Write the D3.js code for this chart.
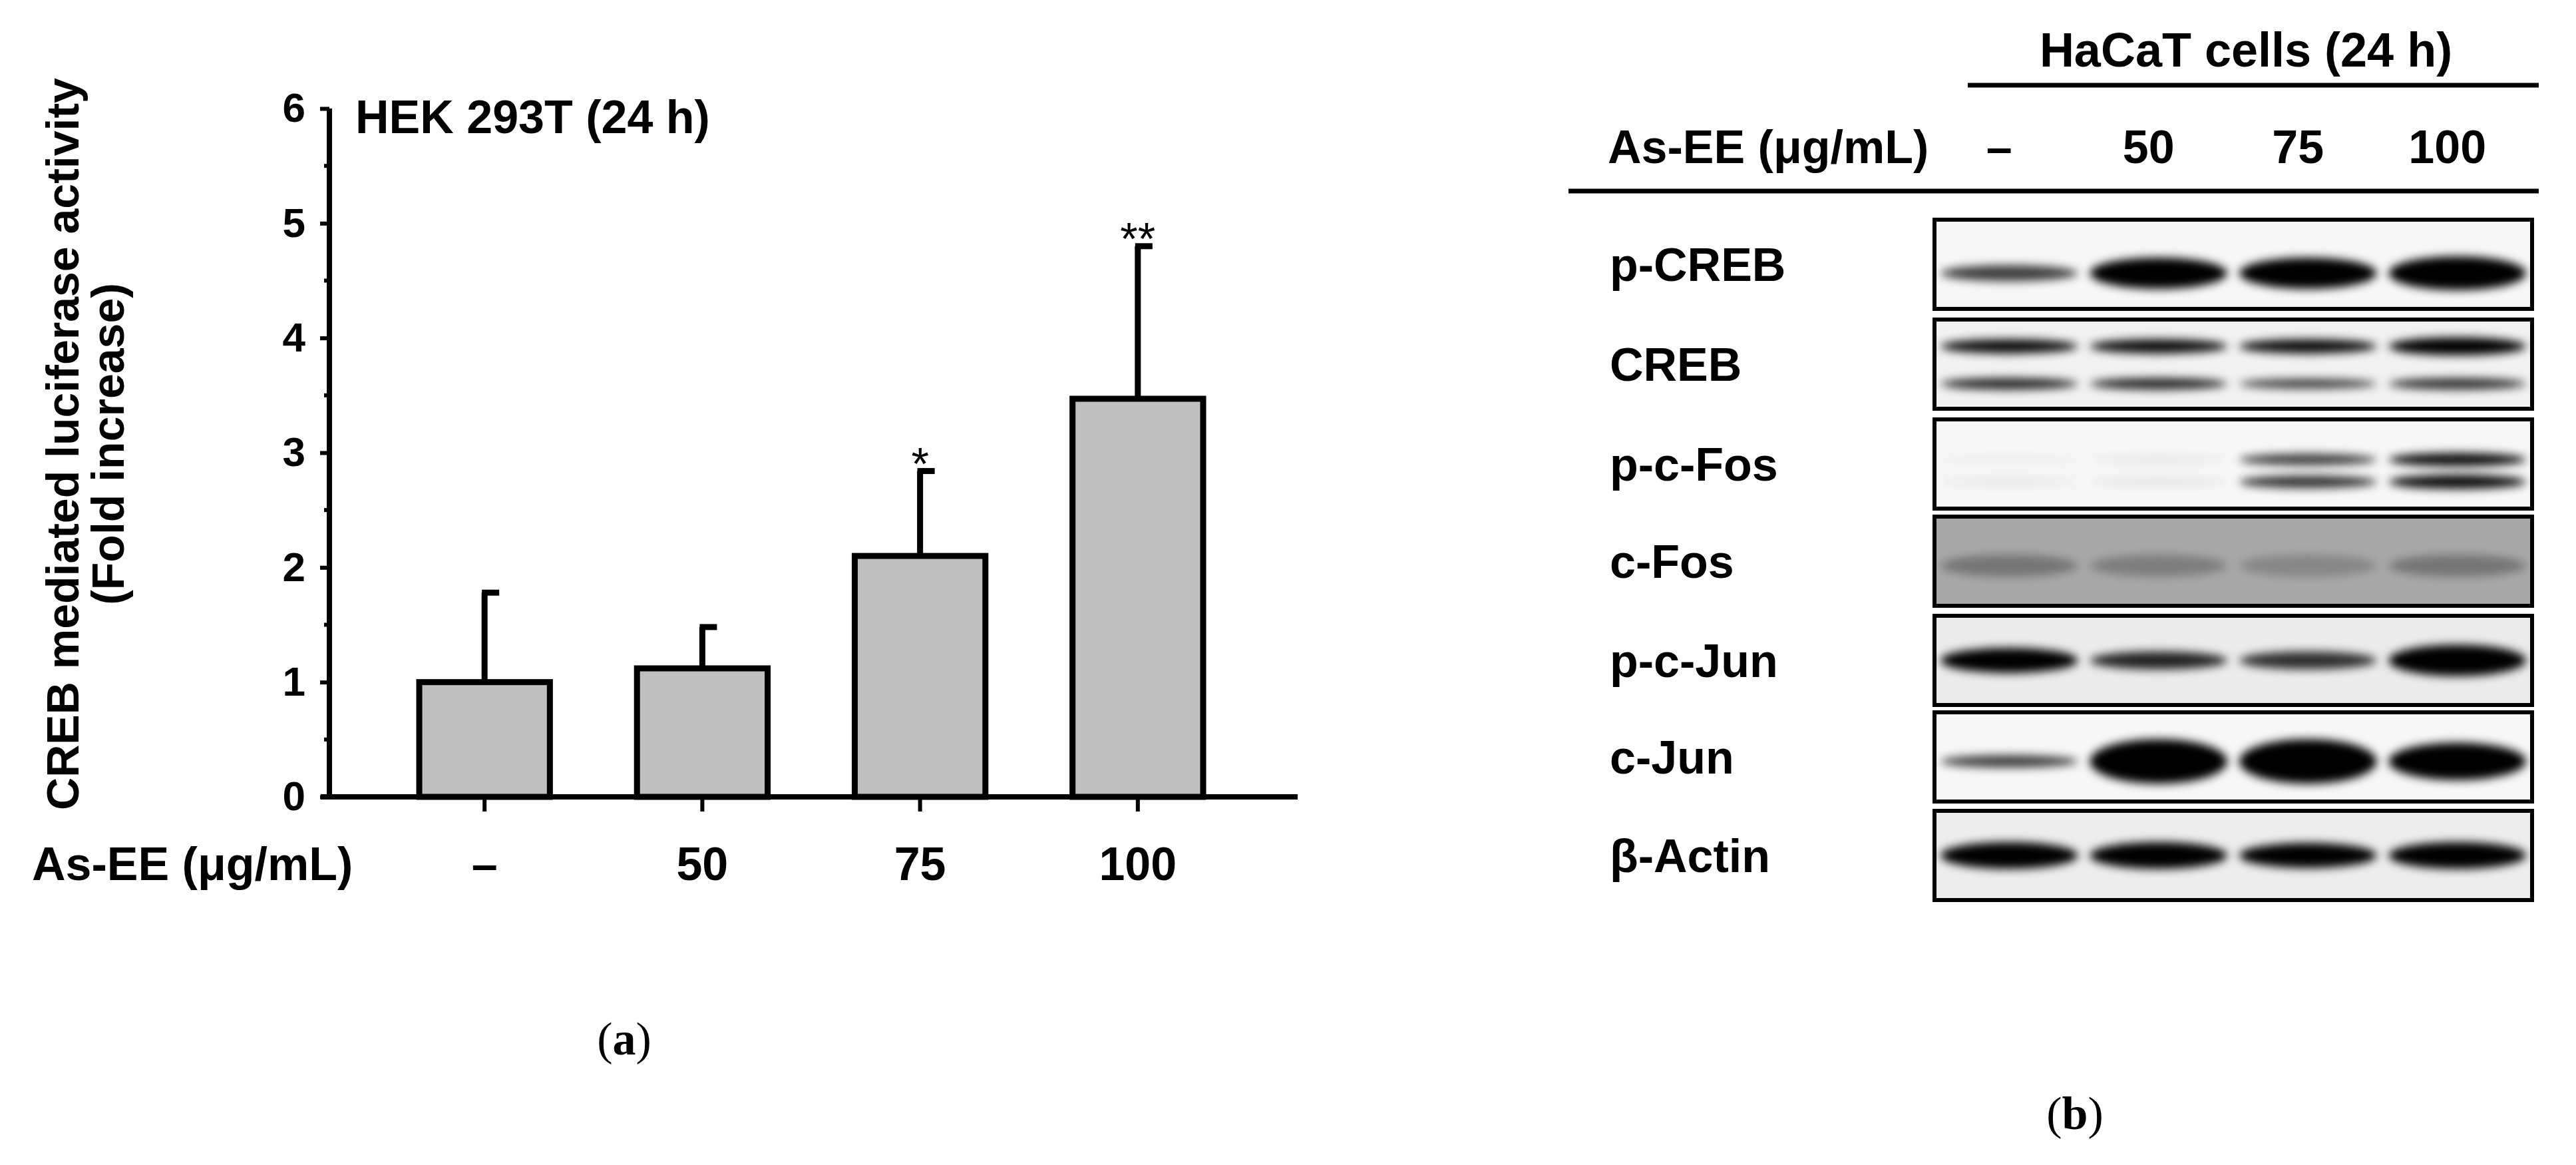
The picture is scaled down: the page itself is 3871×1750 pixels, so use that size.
<!DOCTYPE html>
<html><head><meta charset="utf-8">
<script src="https://cdn.jsdelivr.net/npm/d3@7"></script>
<style>body{margin:0;background:#fff}</style></head>
<body><svg id="c" width="3871" height="1750"></svg>
<script>
// ---- Panel (a) data ----
const categories = ["–", "50", "75", "100"];
const means = [1.0, 1.12, 2.1, 3.47];
const errTop = [1.78, 1.48, 2.84, 4.8];
const stars = ["", "", "*", "**"];
const yTicks = [0, 1, 2, 3, 4, 5, 6];
// ---- Panel (b) data ----
const lanes = ["–", "50", "75", "100"];
const proteins = ["p-CREB", "CREB", "p-c-Fos", "c-Fos", "p-c-Jun", "c-Jun", "β-Actin"];
const bandPos = [[0.6], [0.3, 0.72], [0.45, 0.7], [0.55], [0.5], [0.55], [0.5]];
const bandInt = [
  [[0.75, 1, 1, 1]],
  [[0.95, 0.95, 0.95, 1], [0.85, 0.85, 0.75, 0.8]],
  [[0.04, 0.06, 0.75, 0.95], [0.06, 0.07, 0.8, 0.95]],
  [[0.3, 0.25, 0.2, 0.3]],
  [[1, 0.85, 0.8, 1]],
  [[0.75, 1, 1, 1]],
  [[1, 1, 1, 1]]
];
const bandThick = [
  [[0.18, 0.35, 0.35, 0.38]],
  [[0.16, 0.16, 0.16, 0.2], [0.13, 0.13, 0.11, 0.13]],
  [[0.1, 0.1, 0.13, 0.15], [0.1, 0.1, 0.14, 0.16]],
  [[0.25, 0.25, 0.25, 0.25]],
  [[0.28, 0.2, 0.2, 0.35]],
  [[0.14, 0.5, 0.5, 0.42]],
  [[0.3, 0.3, 0.28, 0.3]]
];
const bgGray = [0.97, 0.95, 0.97, 0.66, 0.92, 0.97, 0.93];

const svg = d3.select("#c");
const F = "'Liberation Sans', Arial, sans-serif";

// ---------- Panel a ----------
const x = d3.scaleBand().domain(categories).range([630, 1808]).paddingInner(0.4).paddingOuter(0);
const y = d3.scaleLinear().domain([0, 6]).range([1197, 163]);
const g = svg.append("g");
const bw = x.bandwidth();
g.selectAll("line.err").data(categories).enter().append("line")
  .attr("x1", d => x(d) + bw / 2).attr("x2", d => x(d) + bw / 2)
  .attr("y1", (d, i) => y(means[i])).attr("y2", (d, i) => y(errTop[i]))
  .attr("stroke", "#000").attr("stroke-width", 9);
g.selectAll("line.cap").data(categories).enter().append("line")
  .attr("x1", d => x(d) + bw / 2 - 4).attr("x2", d => x(d) + bw / 2 + 22)
  .attr("y1", (d, i) => y(errTop[i])).attr("y2", (d, i) => y(errTop[i]))
  .attr("stroke", "#000").attr("stroke-width", 9);
g.selectAll("rect").data(categories).enter().append("rect")
  .attr("x", d => x(d)).attr("width", bw)
  .attr("y", (d, i) => y(means[i])).attr("height", (d, i) => y(0) - y(means[i]))
  .attr("fill", "#c0c0c0").attr("stroke", "#000").attr("stroke-width", 9);
g.selectAll("text.star").data(categories).enter().append("text")
  .attr("x", d => x(d) + bw / 2).attr("y", (d, i) => y(errTop[i]) + 12)
  .attr("text-anchor", "middle").attr("font-family", F).attr("font-size", 68)
  .text((d, i) => stars[i]);
g.append("line").attr("x1", 482).attr("x2", 1950).attr("y1", y(0)).attr("y2", y(0)).attr("stroke", "#000").attr("stroke-width", 8);
g.selectAll("line.xt").data(categories).enter().append("line")
  .attr("x1", d => x(d) + bw / 2).attr("x2", d => x(d) + bw / 2)
  .attr("y1", y(0)).attr("y2", y(0) + 22).attr("stroke", "#000").attr("stroke-width", 6);
g.selectAll("text.xl").data(categories).enter().append("text")
  .attr("x", d => x(d) + bw / 2).attr("y", 1322).attr("text-anchor", "middle")
  .attr("font-family", F).attr("font-weight", "bold").attr("font-size", 70).text(d => d);
g.append("text").attr("x", 48).attr("y", 1322).attr("font-family", F).attr("font-weight", "bold")
  .attr("font-size", 70).text("As-EE (μg/mL)");
const yAxis = d3.axisLeft(y).tickValues(yTicks).tickSize(14).tickFormat(d3.format("d"));
const ya = g.append("g").attr("transform", "translate(495,0)").call(yAxis);
ya.select(".domain").attr("stroke-width", 8).attr("d", `M0,${y(0)}V${y(6)}`);
ya.selectAll(".tick line").attr("stroke-width", 6);
ya.selectAll(".tick text").attr("font-family", F).attr("font-weight", "bold").attr("font-size", 62).attr("x", -36);
ya.selectAll("line.minor").data(d3.range(0.5, 6, 1)).enter().append("line").attr("class", "minor")
  .attr("x1", -8).attr("x2", 0).attr("y1", d => y(d)).attr("y2", d => y(d)).attr("stroke", "#000").attr("stroke-width", 6);
g.append("text").attr("x", 534).attr("y", 200).attr("font-family", F).attr("font-weight", "bold")
  .attr("font-size", 70).text("HEK 293T (24 h)");
const yt = g.append("text").attr("transform", "translate(94,667) rotate(-90)").attr("text-anchor", "middle")
  .attr("font-family", F).attr("font-weight", "bold").attr("font-size", 68);
yt.append("tspan").attr("x", 0).attr("dy", 24).text("CREB mediated luciferase activity");
yt.append("tspan").attr("x", 0).attr("dy", 68).text("(Fold increase)");
svg.append("text").attr("x", 938).attr("y", 1584).attr("text-anchor", "middle")
  .attr("font-family", "'Liberation Serif', serif").attr("font-size", 70)
  .html("(<tspan font-weight='bold'>a</tspan>)");

// ---------- Panel b ----------
const defs = svg.append("defs");
defs.append("filter").attr("id", "blur").attr("x", "-20%").attr("y", "-50%").attr("width", "140%").attr("height", "200%")
  .append("feGaussianBlur").attr("stdDeviation", 7);
const bx0 = 2907, bx1 = 3805;
const lx = d3.scaleBand().domain(lanes).range([bx0, bx1]).paddingInner(0.08).paddingOuter(0.04);
const rowTops = [330, 480, 630, 776, 925, 1070, 1218];
const rowH = 134;
const b = svg.append("g");
proteins.forEach((p, r) => {
  const top = rowTops[r];
  const cp = "clip" + r;
  defs.append("clipPath").attr("id", cp).append("rect").attr("x", bx0).attr("y", top).attr("width", bx1 - bx0).attr("height", rowH);
  const gg = b.append("g").attr("clip-path", `url(#${cp})`);
  const bg = Math.round(bgGray[r] * 255);
  gg.append("rect").attr("x", bx0).attr("y", top).attr("width", bx1 - bx0).attr("height", rowH).attr("fill", `rgb(${bg},${bg},${bg})`);
  const bands = gg.append("g").attr("filter", "url(#blur)");
  bandPos[r].forEach((pos, k) => {
    lanes.forEach((l, j) => {
      bands.append("ellipse").attr("cx", lx(l) + lx.bandwidth() / 2).attr("cy", top + pos * rowH)
        .attr("rx", lx.bandwidth() / 2).attr("ry", bandThick[r][k][j] * rowH / 2)
        .attr("fill", "#000").attr("opacity", bandInt[r][k][j]);
    });
  });
  b.append("rect").attr("x", bx0).attr("y", top).attr("width", bx1 - bx0).attr("height", rowH)
    .attr("fill", "none").attr("stroke", "#000").attr("stroke-width", 6);
  b.append("text").attr("x", 2419).attr("y", top + rowH / 2 + 25).attr("font-family", F).attr("font-weight", "bold")
    .attr("font-size", 70).text(p);
});
b.append("text").attr("x", 3375).attr("y", 100).attr("text-anchor", "middle").attr("font-family", F)
  .attr("font-weight", "bold").attr("font-size", 72).text("HaCaT cells (24 h)");
b.append("line").attr("x1", 2957).attr("x2", 3815).attr("y1", 128).attr("y2", 128).attr("stroke", "#000").attr("stroke-width", 7);
b.append("text").attr("x", 2416).attr("y", 245).attr("font-family", F).attr("font-weight", "bold")
  .attr("font-size", 70).text("As-EE (μg/mL)");
b.selectAll("text.lane").data(lanes).enter().append("text")
  .attr("x", d => lx(d) + lx.bandwidth() / 2 - 15).attr("y", 245).attr("text-anchor", "middle")
  .attr("font-family", F).attr("font-weight", "bold").attr("font-size", 70).text(d => d);
b.append("line").attr("x1", 2357).attr("x2", 3815).attr("y1", 287).attr("y2", 287).attr("stroke", "#000").attr("stroke-width", 7);
svg.append("text").attr("x", 3118).attr("y", 1696).attr("text-anchor", "middle")
  .attr("font-family", "'Liberation Serif', serif").attr("font-size", 70)
  .html("(<tspan font-weight='bold'>b</tspan>)");
</script></body></html>
